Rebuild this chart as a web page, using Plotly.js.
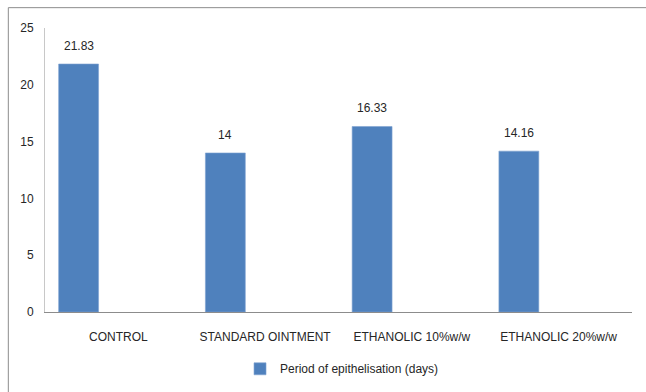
<!DOCTYPE html>
<html>
<head>
<meta charset="utf-8">
<script src="https://cdn.plot.ly/plotly-3.0.1.min.js"></script>
<style>html,body{margin:0;padding:0;background:#fff;}#chart{width:646px;height:392px;}</style>
</head>
<body>
<div id="chart"></div>
<script>
const categories = ["CONTROL", "STANDARD OINTMENT", "ETHANOLIC 10%w/w", "ETHANOLIC 20%w/w"];
const values = [21.83, 14, 16.33, 14.16];
const valueLabels = ["21.83", "14", "16.33", "14.16"];
const seriesName = "Period of epithelisation (days)";
const yTicks = [0, 5, 10, 15, 20, 25];

const barOffset = -0.407;
const barWidth = 0.272;
const fontFam = '"Liberation Sans", Arial, sans-serif';

const trace = {
  type: 'bar',
  x: categories,
  y: values,
  name: seriesName,
  offset: barOffset,
  width: barWidth,
  marker: {color: '#4F81BD', line: {color: '#7FA3D1', width: 0.6}},
  showlegend: true,
  hoverinfo: 'skip'
};

const annotations = values.map((v, i) => ({
  x: i + barOffset + barWidth / 2,
  y: v,
  xref: 'x', yref: 'y',
  text: valueLabels[i],
  showarrow: false,
  yanchor: 'bottom',
  yshift: 9,
  font: {family: fontFam, size: 12, color: '#262626'}
}));

const layout = {
  width: 646, height: 392,
  margin: {l: 45, r: 14, t: 28, b: 80, autoexpand: false},
  paper_bgcolor: '#fff', plot_bgcolor: '#fff',
  bargap: 0,
  xaxis: {
    type: 'category',
    automargin: false,
    showline: true, linecolor: '#8C8C8C', linewidth: 1,
    ticks: '', showgrid: false, zeroline: false,
    ticklabelstandoff: 14,
    tickfont: {family: fontFam, size: 12, color: '#262626'},
    range: [-0.5, 3.5]
  },
  yaxis: {
    automargin: false,
    range: [0, 25],
    tickvals: yTicks,
    ticktext: yTicks.map(String),
    showline: true, linecolor: '#C8C8C8', linewidth: 1,
    showgrid: false, zeroline: false, ticks: '',
    ticklabelstandoff: 8,
    tickfont: {family: fontFam, size: 12, color: '#262626'}
  },
  legend: {
    orientation: 'h',
    x: 0.506, xanchor: 'center',
    y: -0.2, yanchor: 'middle',
    font: {family: fontFam, size: 12, color: '#262626'},
    itemwidth: 30
  },
  shapes: [{
    type: 'rect', xref: 'paper', yref: 'paper',
    x0: -0.0625, x1: 1.2, y0: -0.4, y1: 1.0716,
    line: {color: '#8C8C8C', width: 1},
    fillcolor: 'rgba(0,0,0,0)',
    layer: 'below'
  }],
  annotations: annotations
};

Plotly.newPlot('chart', [trace], layout, {displayModeBar: false, staticPlot: true});
</script>
</body>
</html>
